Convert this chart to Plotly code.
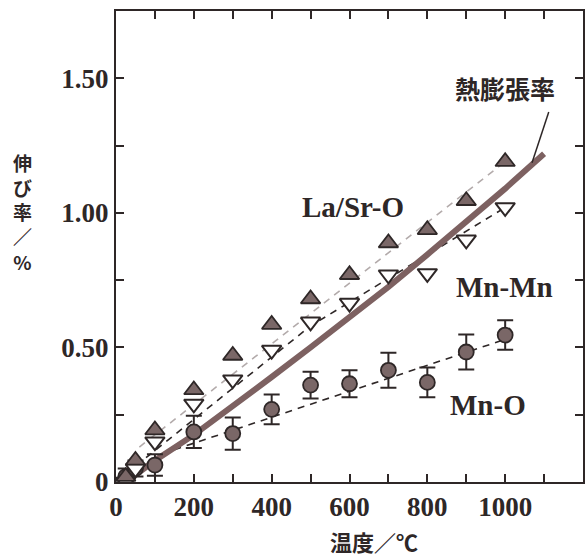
import plotly.graph_objects as go

# ---- data ----
temps = [25, 50, 100, 200, 300, 400, 500, 600, 700, 800, 900, 1000]
la_sr_o = [0.02, 0.08, 0.193, 0.342, 0.47, 0.585, 0.68, 0.77, 0.888, 0.937, 1.045, 1.19]
mn_mn = [0.0, 0.05, 0.15, 0.29, 0.38, 0.49, 0.595, 0.665, 0.77, 0.775, 0.90, 1.02]
mn_o = [0.02, 0.05, 0.063, 0.186, 0.18, 0.27, 0.36, 0.365, 0.415, 0.37, 0.483, 0.546]
mn_o_err = [0.03, 0.03, 0.04, 0.06, 0.06, 0.055, 0.05, 0.05, 0.065, 0.055, 0.065, 0.055]

thermal_t = [30, 100, 200, 300, 400, 500, 600, 700, 800, 900, 1000, 1100]
thermal = [0.005, 0.08, 0.175, 0.28, 0.39, 0.50, 0.61, 0.725, 0.845, 0.965, 1.09, 1.22]

lasr_fit_t = [60, 1000]
lasr_fit = [0.13, 1.19]
mnmn_fit_t = [25, 500, 1000]
mnmn_fit = [0.03, 0.58, 1.02]
mno_fit_t = [150, 1000]
mno_fit = [0.12, 0.53]

x_tickvals = [0, 100, 200, 300, 400, 500, 600, 700, 800, 900, 1000, 1100]
x_ticktext = ["0", "", "200", "", "400", "", "600", "", "800", "", "1000", ""]
y_tickvals = [0, 0.25, 0.5, 0.75, 1.0, 1.25, 1.5]
y_ticktext = ["0", "", "0.50", "", "1.00", "", "1.50"]

DARK = "#2e2727"
BROWN = "#7d6161"
FILL = "#7a6767"
SERIF = "Liberation Serif, Times New Roman, serif"
CJK = "Noto Sans CJK JP"

fig = go.Figure()

# dashed fit lines
fig.add_trace(go.Scatter(x=lasr_fit_t, y=lasr_fit, mode="lines",
                         line=dict(color="#b3abab", width=1.6, dash="7px,6px")))
fig.add_trace(go.Scatter(x=mnmn_fit_t, y=mnmn_fit, mode="lines",
                         line=dict(color=DARK, width=1.6, dash="7px,6px")))
fig.add_trace(go.Scatter(x=mno_fit_t, y=mno_fit, mode="lines",
                         line=dict(color=DARK, width=1.6, dash="7px,6px")))

# thermal expansion
fig.add_trace(go.Scatter(x=thermal_t, y=thermal, mode="lines",
                         line=dict(color=BROWN, width=6)))

# markers
fig.add_trace(go.Scatter(x=temps, y=mn_o, mode="markers",
                         marker=dict(symbol="circle", size=15, color=FILL,
                                     line=dict(color=DARK, width=1.8)),
                         error_y=dict(type="data", array=mn_o_err, color=DARK,
                                      thickness=2, width=8)))
fig.add_trace(go.Scatter(x=temps, y=mn_mn, mode="markers",
                         marker=dict(symbol="triangle-down", size=17, color="white",
                                     line=dict(color=DARK, width=2))))
fig.add_trace(go.Scatter(x=temps, y=la_sr_o, mode="markers",
                         marker=dict(symbol="triangle-up", size=17, color=FILL,
                                     line=dict(color=DARK, width=1.8))))

annotations = []
def txt(x, y, s, size, font, xref="x", yref="y", weight="bold"):
    annotations.append(dict(x=x, y=y, xref=xref, yref=yref, text=s, showarrow=False,
                            font=dict(family=font, size=size, color=DARK, weight=weight),
                            xanchor="center", yanchor="middle"))

txt(610, 1.02, "La/Sr-O", 29, SERIF)
txt(998, 0.725, "Mn-Mn", 29, SERIF)
txt(955, 0.285, "Mn-O", 29, SERIF)
txt(1000, 1.465, "熱膨張率", 25, CJK)

L, T, PW, PH = 116, 11, 469, 471
# y-axis title, stacked vertically
txt((22 - L) / PW, 1 - (212 - T) / PH, "伸<br>び<br>率<br>／<br>%", 19, CJK,
    xref="paper", yref="paper")
# x-axis title
txt((375 - L) / PW, 1 - (541 - T) / PH, "温度／℃", 22, CJK, xref="paper", yref="paper")

fig.update_layout(
    width=587, height=559,
    margin=dict(l=L, r=2, t=T, b=559 - T - PH),
    paper_bgcolor="white", plot_bgcolor="white",
    showlegend=False,
    annotations=annotations,
    shapes=[dict(type="line", xref="x", yref="y", x0=1112, y0=1.375, x1=1069, y1=1.186,
                 line=dict(color=DARK, width=1.5))],
)
axis_common = dict(showline=True, linewidth=2, linecolor=DARK, mirror="allticks",
                   ticks="inside", ticklen=8, tickwidth=2, tickcolor=DARK,
                   showgrid=False, zeroline=False,
                   tickfont=dict(family=SERIF, size=27, color=DARK, weight="bold"))
fig.update_xaxes(range=[0, 1200], tickmode="array", tickvals=x_tickvals,
                 ticktext=x_ticktext, **axis_common)
fig.update_yaxes(range=[0, 1.75], tickmode="array", tickvals=y_tickvals,
                 ticktext=y_ticktext, **axis_common)

fig.write_html("out.html")
